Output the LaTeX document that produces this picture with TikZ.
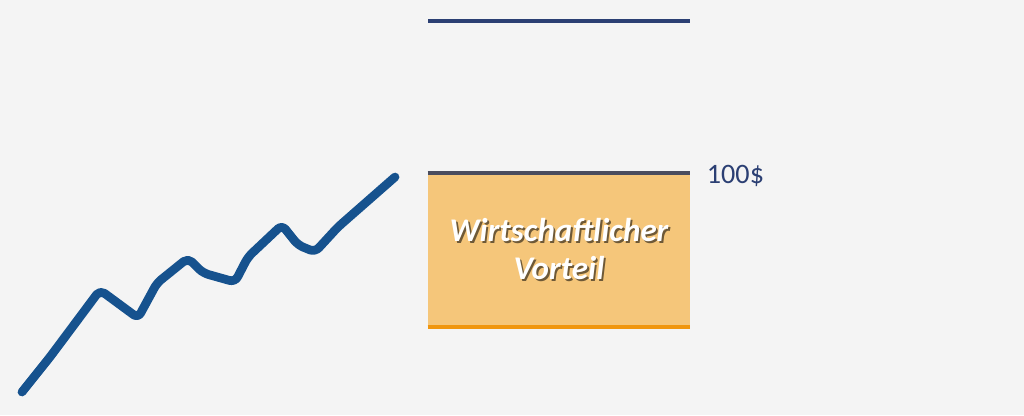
\documentclass[tikz,border=0pt]{standalone}
\usepackage{fontspec}
\setmainfont{Carlito}
\usetikzlibrary{positioning}
\definecolor{bgGray}{HTML}{F4F4F4}
\definecolor{lineBlue}{HTML}{2B3F73}
\definecolor{curveBlue}{HTML}{16528E}
\definecolor{boxFill}{HTML}{F5C67A}
\definecolor{boxTop}{HTML}{4A4C5E}
\definecolor{boxBottom}{HTML}{F0960F}
\colorlet{shadowBrown}{boxFill!45!black}
\newcommand{\schattentext}[1]{\makebox[0pt][l]{\kern1.3pt\raisebox{-1.3pt}{\textcolor{shadowBrown}{#1}}}#1}
\tikzstyle{vorteilbox} = [minimum width=6.55cm, minimum height=3.85cm, fill=boxFill, inner sep=0pt]
\tikzstyle{vorteiltext} = [text centered, text width=6.5cm, text=white, font=\fontsize{23.5}{27}\selectfont\bfseries\itshape]
\tikzstyle{pricelabel} = [anchor=west, text=lineBlue, font=\fontsize{20}{24}\selectfont]

\begin{document}
\begin{tikzpicture}[x=0.025cm, y=-0.025cm]
    \fill [bgGray] (0,0) rectangle (1024,415);
    \useasboundingbox (0,0) rectangle (1024,415);

    \node [vorteilbox] (box) at (559,250) {};
    \draw [boxTop, line width=2.8pt] (box.north west) -- (box.north east);
    \draw [boxBottom, line width=2.8pt] (box.south west) -- (box.south east);
    \node [vorteiltext] (label) at (box.center) {\schattentext{Wirtschaftlicher}\\\schattentext{Vorteil}};

    \node [pricelabel] (price) at (702,176) {100\$};

    %\draw [lineBlue] (428,21) -- (690,21);
    \coordinate (topL) at (428,21);
    \coordinate (topR) at (690,21);
    \draw [lineBlue, line width=2.2pt] (topL) -- (topR);

    \draw [curveBlue, line width=6.2pt, line cap=round, line join=round, rounded corners=4pt]
        (22,392) -- (50,357) -- (100,290) -- (138,318) -- (157,283) -- (188,258)
        -- (203,273) -- (235,282) -- (248,257) -- (282,225) -- (298,245)
        -- (315,252) -- (338,227) -- (395,177);
\end{tikzpicture}
\end{document}
